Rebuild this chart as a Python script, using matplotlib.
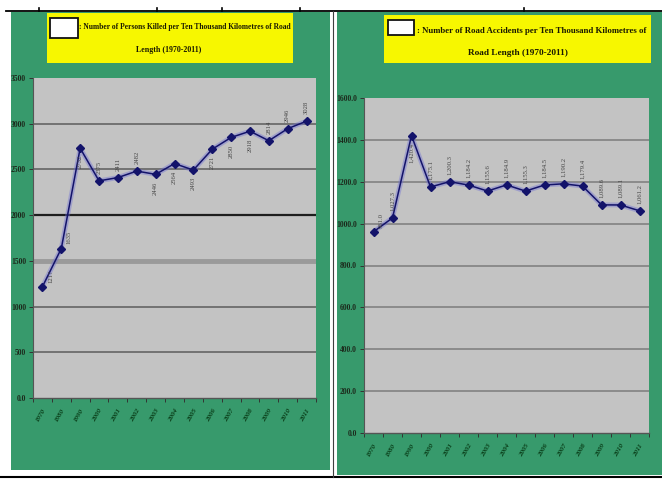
import matplotlib
matplotlib.use("Agg")
import matplotlib.pyplot as plt
from matplotlib.patches import Rectangle
from matplotlib.ticker import FixedLocator, MultipleLocator, FuncFormatter

# ---- data -------------------------------------------------------------
years = ["1970", "1980", "1990", "2000", "2001", "2002", "2003", "2004",
         "2005", "2006", "2007", "2008", "2009", "2010", "2011"]

persons_killed = [1217, 1635, 2732, 2375, 2411, 2482, 2446, 2564,
                  2493, 2721, 2850, 2918, 2814, 2946, 3028]

road_accidents = [961.0, 1027.3, 1420.4, 1175.1, 1200.3, 1184.2, 1155.6,
                  1184.9, 1155.3, 1184.5, 1190.2, 1179.4, 1089.6, 1089.1,
                  1061.2]

killed_title = [": Number of Persons Killed per Ten Thousand Kilometres of Road",
                "Length (1970-2011)"]
accidents_title = [": Number of Road Accidents per Ten Thousand Kilometres of",
                   "Road Length (1970-2011)"]

# where each value label sits relative to its point
killed_label_side = ["right", "right", "down", "up", "up", "up", "down", "down",
                     "down", "down", "down", "down", "up", "up", "up"]
accidents_label_side = ["right", "up", "down", "up", "up", "up", "up", "up",
                        "up", "up", "up", "up", "up", "up", "up"]

# ---- styling ----------------------------------------------------------
W, H = 662, 479
GREEN = "#379a6c"
YELLOW = "#f7f700"
PLOT_BG = "#c3c3c3"
LINE = "#13136a"
HALO = "#6d6dd6"
TICK_GREEN = "#093d18"
SERIF = ["Liberation Serif", "DejaVu Serif"]

fig = plt.figure(figsize=(W / 100, H / 100), dpi=100)
fig.patch.set_facecolor("white")

bg = fig.add_axes([0, 0, 1, 1], zorder=0)
bg.set_xlim(0, W)
bg.set_ylim(H, 0)
bg.axis("off")

# green panels, frame lines
bg.add_patch(Rectangle((11, 12), 319, 458, color=GREEN, lw=0))
bg.add_patch(Rectangle((337, 12), 325, 463, color=GREEN, lw=0))
bg.plot([6, W], [11, 11], color="black", lw=1.3)
bg.plot([0, W], [477, 477], color="black", lw=1.5)
bg.plot([333, 333], [11, 477], color="#404040", lw=0.8)
for tx in [39, 157, 222, 300, 524]:
    bg.plot([tx, tx], [8, 11], color="black", lw=1.2)


def px_axes(x0, y0, x1, y1):
    return fig.add_axes([x0 / W, 1 - y1 / H, (x1 - x0) / W, (y1 - y0) / H], zorder=2)


def fit_text(txt, width_px):
    r = fig.canvas.get_renderer()
    ext = txt.get_window_extent(renderer=r)
    txt.set_fontsize(txt.get_fontsize() * width_px / ext.width)


def title_box(x0, y0, x1, y1, box, lines, line1_x, line1_y, line1_w, line2_x, line2_y):
    bg.add_patch(Rectangle((x0, y0), x1 - x0, y1 - y0, color=YELLOW, lw=0))
    bx0, by0, bx1, by1 = box
    bg.add_patch(Rectangle((bx0, by0), bx1 - bx0, by1 - by0, facecolor="white",
                           edgecolor="#111111", lw=1.3))
    t1 = bg.text(line1_x, line1_y, lines[0], ha="left", va="center",
                 family=SERIF, weight="bold", fontsize=8, color="#1a1a00")
    fit_text(t1, line1_w)
    bg.text(line2_x, line2_y, lines[1], ha="center", va="center",
            family=SERIF, weight="bold", fontsize=t1.get_fontsize() * 1.05,
            color="#1a1a00")


title_box(47, 13, 293, 63, (50, 18, 78, 38), killed_title, 79, 27, 212, 169, 50)
title_box(384, 15, 651, 63, (388, 20, 414, 35), accidents_title, 417, 31, 230, 518, 53)


def draw_panel(ax, values, ymax, ystep, tick_fmt, label_fmt, sides, grid_style):
    x = list(range(len(values)))
    ax.set_facecolor(PLOT_BG)
    ax.set_xlim(-0.5, len(values) - 0.5)
    ax.set_ylim(0, ymax)

    ax.yaxis.set_major_locator(MultipleLocator(ystep))
    ax.yaxis.set_major_formatter(FuncFormatter(tick_fmt))
    for v in ax.get_yticks():
        if 0 < v < ymax:
            color, lw = grid_style(v)
            ax.axhline(v, color=color, lw=lw, zorder=1)

    ax.plot(x, values, color=HALO, lw=3.5, alpha=0.4, zorder=2,
            solid_capstyle="round")
    ax.plot(x, values, color=LINE, lw=1.1, marker="D", markersize=3.6,
            markeredgecolor=LINE, zorder=3)

    for xi, v, side in zip(x, values, sides):
        if side == "up":
            off, ha, va = (0, 5), "center", "bottom"
        elif side == "down":
            off, ha, va = (0, -5), "center", "top"
        else:
            off, ha, va = (4, 3), "left", "bottom"
        ax.annotate(label_fmt(v), (xi, v), xytext=off, textcoords="offset points",
                    rotation=90, ha=ha, va=va, fontsize=4.8, color="#454545",
                    family=SERIF, zorder=4)

    ax.xaxis.set_major_locator(FixedLocator(x))
    ax.set_xticklabels(years, rotation=60, ha="right", va="top",
                       rotation_mode="anchor", fontsize=5, color=TICK_GREEN,
                       family=SERIF, style="italic", weight="bold")
    ax.xaxis.set_minor_locator(FixedLocator([i - 0.5 for i in range(len(values) + 1)]))
    ax.tick_params(axis="x", which="major", length=0, pad=7)
    ax.tick_params(axis="x", which="minor", length=3, color="#333333", width=0.7)
    ax.tick_params(axis="y", length=3, color="#333333", width=0.7, pad=2,
                   labelsize=5.5, labelcolor="#1c2a1c")
    for lab in ax.get_yticklabels():
        lab.set_family(SERIF)
        lab.set_weight("bold")
    for s in ["top", "right"]:
        ax.spines[s].set_visible(False)
    ax.spines["left"].set_color("#555555")
    ax.spines["bottom"].set_color("#555555")
    ax.spines["left"].set_linewidth(0.8)
    ax.spines["bottom"].set_linewidth(1.0)


def killed_grid(v):
    styles = {2000: ("#1e1e1e", 1.6), 1500: ("#9a9a9a", 3.5)}
    return styles.get(int(v), ("#727272", 1.4))


def accidents_grid(v):
    return ("#878787", 1.3)


ax1 = px_axes(33, 78, 316, 398)
draw_panel(ax1, persons_killed, 3500, 500,
           lambda v, p: "0.0" if v == 0 else f"{int(v)}",
           lambda v: f"{v:.0f}", killed_label_side, killed_grid)

ax2 = px_axes(364, 98, 649, 433)
draw_panel(ax2, road_accidents, 1600, 200,
           lambda v, p: f"{v:.1f}",
           lambda v: f"{v:,.1f}", accidents_label_side, accidents_grid)

fig.savefig("out.png", dpi=100)
